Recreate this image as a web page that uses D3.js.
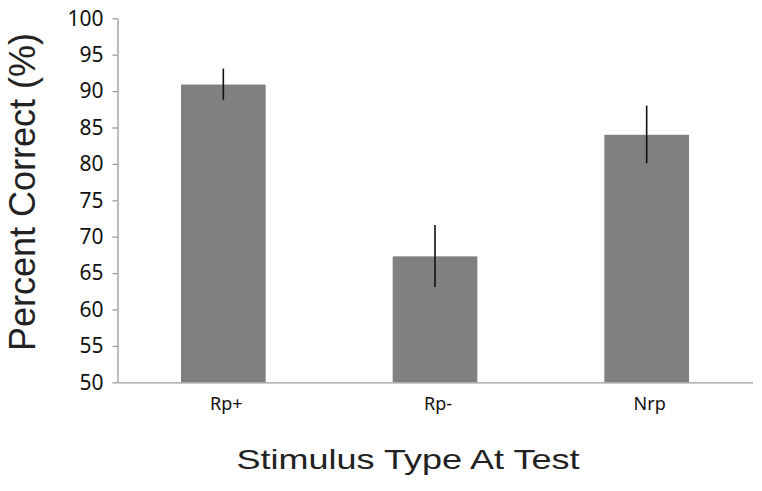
<!DOCTYPE html>
<html lang="en">
<head>
  <meta charset="utf-8">
  <title>Percent correct by stimulus type</title>
  <script src="https://cdn.jsdelivr.net/npm/d3@7"></script>
  <style>
    body { margin: 0; background: #fff; }
    .axis path, .axis line { stroke: #9a9a9a; stroke-width: 1.3; }
    .axis text { font-family: "Noto Sans", sans-serif; fill: #111; }
    .title { font-family: "Liberation Sans", Arial, sans-serif; fill: #222; }
  </style>
</head>
<body>
  <script>
    // values
    var categories = ["Rp+", "Rp-", "Nrp"];
    var means  = [90.9, 67.3, 84.0];
    var errLow = [88.8, 63.1, 80.1];
    var errHigh = [93.1, 71.6, 88.0];
    var yTicks = [50, 55, 60, 65, 70, 75, 80, 85, 90, 95, 100];

    var width  = 762;
    var height = 491;

    var svg = d3.select("body")
      .append("svg")
      .attr("width", width)
      .attr("height", height);

    var x = d3.scaleBand()
      .domain(categories)
      .range([117.5, 752.5])
      .paddingInner(0.6)
      .paddingOuter(0.3);

    var y = d3.scaleLinear()
      .domain([50, 100])
      .range([382.3, 18.3]);

    // bars
    svg.append("g").selectAll("rect")
      .data(categories)
      .enter()
      .append("rect")
      .attr("x", function(d) { return x(d); })
      .attr("width", x.bandwidth())
      .attr("y", function(d, i) { return y(means[i]); })
      .attr("height", function(d, i) { return y(50) - y(means[i]); })
      .attr("fill", "#808080");

    // error bars, no caps
    svg.append("g").selectAll("line")
      .data(categories)
      .enter()
      .append("line")
      .attr("x1", function(d) { return x(d) + x.bandwidth() / 2; })
      .attr("x2", function(d) { return x(d) + x.bandwidth() / 2; })
      .attr("y1", function(d, i) { return y(errLow[i]); })
      .attr("y2", function(d, i) { return y(errHigh[i]); })
      .attr("stroke", "#111")
      .attr("stroke-width", 1.6);

    // y axis
    var yAxis = svg.append("g")
      .attr("class", "axis")
      .attr("transform", "translate(117.5,0)")
      .call(d3.axisLeft(y).tickValues(yTicks).tickSize(5).tickSizeOuter(0).tickPadding(9));
    yAxis.selectAll("text").style("font-size", "21px");

    // x axis, no tick marks
    var xAxis = svg.append("g")
      .attr("class", "axis")
      .attr("transform", "translate(0,382.3)")
      .call(d3.axisBottom(x).tickSize(0).tickSizeOuter(0).tickPadding(15));
    xAxis.selectAll("text")
      .style("font-size", "18px")
      .attr("dx", "3");

    // axis titles
    svg.append("text")
      .attr("class", "title")
      .attr("transform", "translate(35,192) rotate(-90)")
      .attr("text-anchor", "middle")
      .style("font-size", "36px")
      .text("Percent Correct (%)");

    svg.append("text")
      .attr("class", "title")
      .attr("x", 236.5)
      .attr("y", 469)
      .attr("textLength", 343)
      .attr("lengthAdjust", "spacingAndGlyphs")
      .style("font-size", "28px")
      .text("Stimulus Type At Test");
  </script>
</body>
</html>
